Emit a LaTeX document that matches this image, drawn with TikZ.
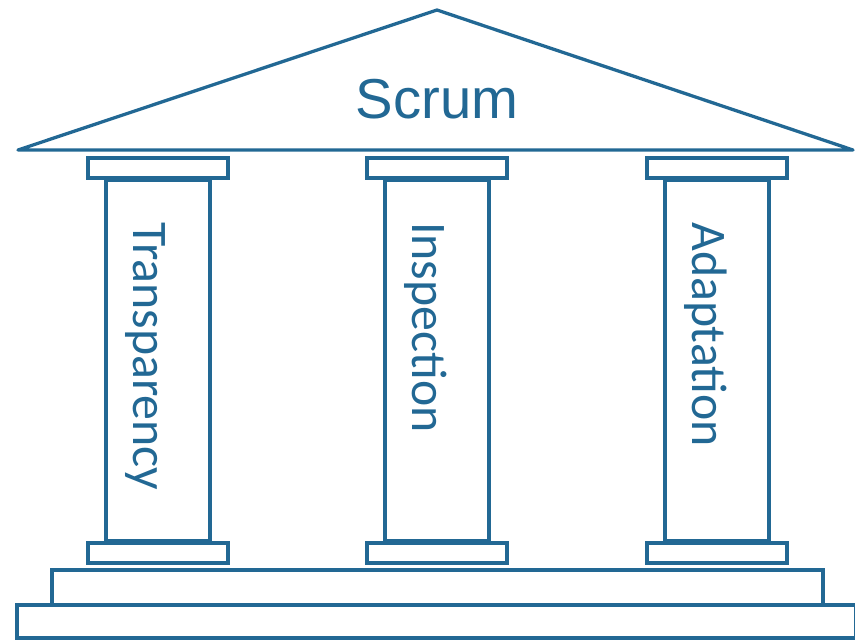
\documentclass[tikz,border=0pt]{standalone}
\usepackage{fontspec}
\setmainfont{Liberation Sans}
\newfontfamily\pillarfont{Carlito}
\usepackage{tikz}
\usepackage{xcolor}
\usetikzlibrary{positioning, calc}
\definecolor{scrumblue}{RGB}{34,104,148}

\begin{document}
\begin{tikzpicture}[
    x=0.03cm, y=-0.03cm,
    % Temple part styles
    part/.style={draw=scrumblue, line width=2.8pt, fill=white, line join=miter},
    roof/.style={part, line join=round},
    title/.style={font=\fontsize{48}{48}\selectfont, text=scrumblue, inner sep=0pt},
    pillartext/.style={font=\pillarfont\fontsize{42.5}{42.5}\selectfont, text=scrumblue, inner sep=0pt, rotate=-90, anchor=base west}
]
\useasboundingbox (0,0) rectangle (855,640);

% Roof
\coordinate (roof_left) at (18,150);
\coordinate (roof_top) at (437,10);
\coordinate (roof_right) at (853,150);
\draw[roof] (roof_left) -- (roof_top) -- (roof_right) -- cycle;
\node[title, anchor=base] (scrum) at (437,118) {Scrum};

% Pillars: capital, shaft, base and the value on the shaft
\foreach \cx/\name/\word in {158/tra/Transparency, 437/ins/Inspection, 717/ada/Adaptation} {
    \draw[part] (\cx-70,158) rectangle (\cx+70,178);
    \draw[part] (\cx-52,180) rectangle (\cx+52,541);
    \draw[part] (\cx-70,543) rectangle (\cx+70,563);
    \node[pillartext] (\name) at (\cx-25,222) {\word};
}

% Steps
\draw[part] (52,570) rectangle (823,605);
\draw[part] (17,605) rectangle (856,638);

\end{tikzpicture}
\end{document}
